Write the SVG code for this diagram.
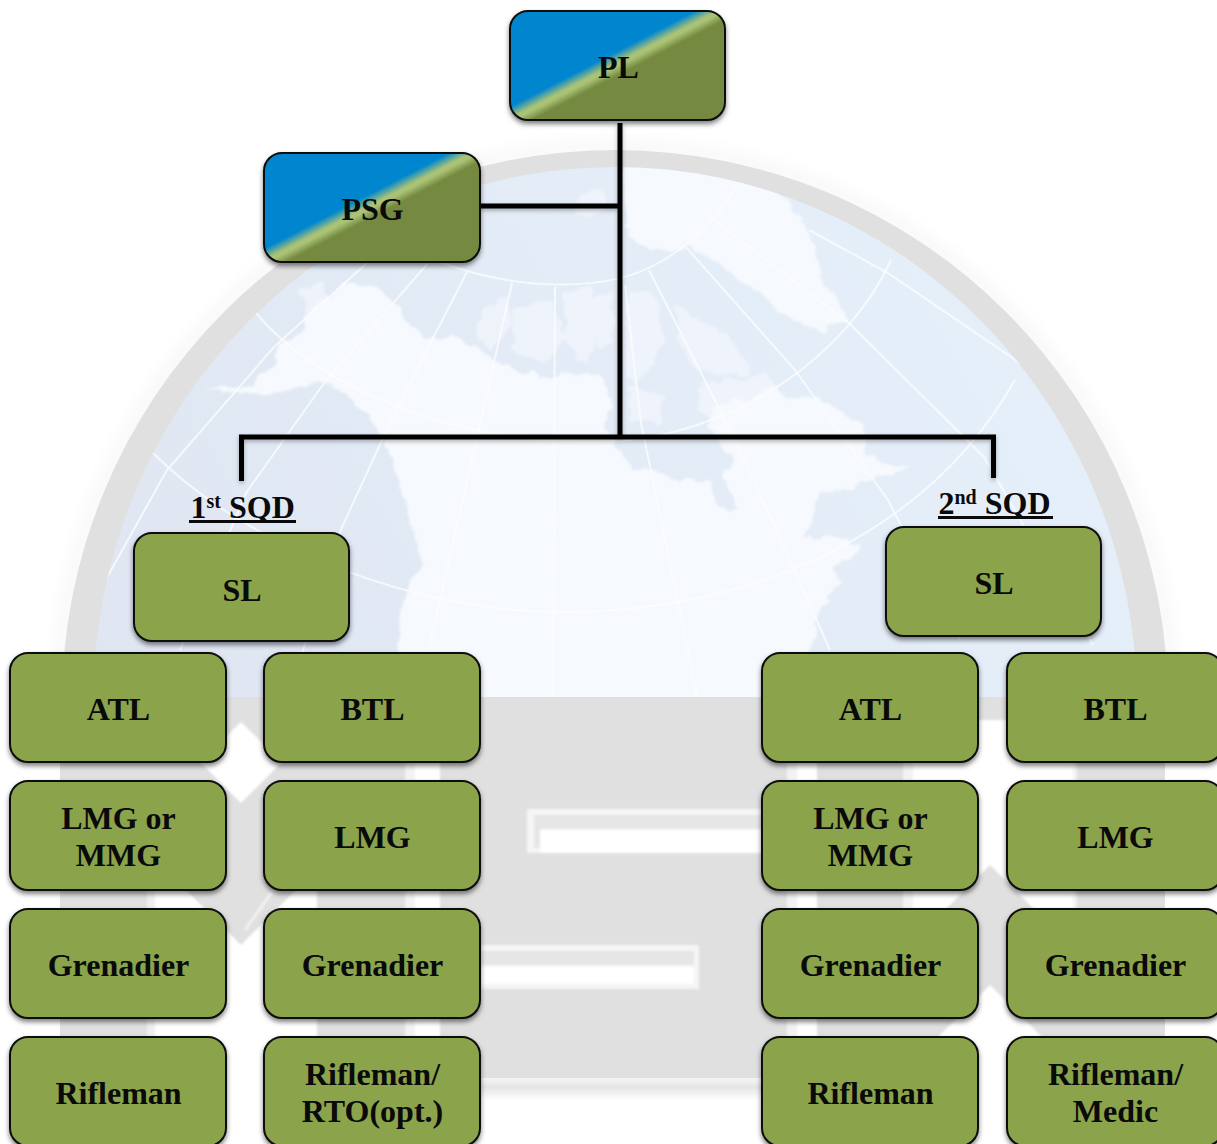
<svg xmlns="http://www.w3.org/2000/svg" width="1217" height="1144" viewBox="0 0 1217 1144">
<style>
.box{fill:#8ba34b;stroke:#0c0c0c;stroke-width:2;filter:url(#sh)}
.cmd{stroke:#0c0c0c;stroke-width:2;filter:url(#sh)}
.t{font-family:"Liberation Serif","Times New Roman",serif;font-weight:700;font-size:32px;fill:#0a0a0a;text-anchor:middle}
.h{text-anchor:start}
.s{font-size:20px}
.ul{stroke:#0a0a0a;stroke-width:3}
.land{fill:#f6f9fd}
.grat{fill:none;stroke:#fbfcfe;stroke-width:2;stroke-opacity:.8}
.wire{fill:none;stroke:#050505;stroke-width:5;stroke-linecap:butt;filter:url(#sh2)}
.w{fill:#fff}
.lt{fill:#f3f3f3}
</style>
<defs>
<filter id="sh" x="-10%" y="-10%" width="120%" height="125%"><feDropShadow dx="0" dy="3" stdDeviation="2.5" flood-color="#000" flood-opacity=".5"/></filter>
<filter id="sh2" filterUnits="userSpaceOnUse" x="0" y="0" width="1217" height="1144"><feDropShadow dx="0" dy="2" stdDeviation="2" flood-color="#000" flood-opacity=".3"/></filter>
<filter id="soft" filterUnits="userSpaceOnUse" x="0" y="0" width="1217" height="1144"><feGaussianBlur stdDeviation="8"/></filter>
<filter id="soft1" filterUnits="userSpaceOnUse" x="0" y="0" width="1217" height="1144"><feGaussianBlur stdDeviation="1.2"/></filter>
<filter id="rough" filterUnits="userSpaceOnUse" x="0" y="0" width="1217" height="1144">
<feTurbulence type="fractalNoise" baseFrequency=".07" numOctaves="3" seed="4" result="n"/>
<feDisplacementMap in="SourceGraphic" in2="n" scale="12" xChannelSelector="R" yChannelSelector="G"/>
<feGaussianBlur stdDeviation=".9"/>
</filter>
<linearGradient id="plg" gradientUnits="userSpaceOnUse" x1="609.7" y1="48" x2="626.3" y2="80">
<stop offset="0.17" stop-color="#0085cf"/><stop offset="0.46" stop-color="#a9c275"/><stop offset="0.55" stop-color="#a9c275"/><stop offset="0.78" stop-color="#748a40"/>
</linearGradient>
<linearGradient id="psgg" href="#plg" gradientTransform="translate(-246 142)"/>
<linearGradient id="sea" gradientUnits="userSpaceOnUse" x1="950" y1="220" x2="200" y2="640">
<stop offset="0" stop-color="#e5eff9"/><stop offset="1" stop-color="#e0e7f3"/>
</linearGradient>
<linearGradient id="band" x1="0" y1="0" x2="0" y2="1">
<stop offset="0" stop-color="#f4f4f4"/><stop offset=".2" stop-color="#efefef"/><stop offset=".4" stop-color="#e4e4e4"/><stop offset="1" stop-color="#fff"/>
</linearGradient>
<clipPath id="top"><rect x="0" y="0" width="1217" height="697"/></clipPath>
<clipPath id="globe"><ellipse cx="615" cy="703" rx="522" ry="536"/></clipPath>
</defs>
<rect width="1217" height="1144" fill="#fff"/>
<g id="background">
<g clip-path="url(#top)">
<ellipse cx="615" cy="703" rx="556" ry="556" fill="none" stroke="#000" stroke-opacity=".05" stroke-width="8" filter="url(#soft)"/>
<ellipse cx="615" cy="703" rx="553" ry="553" fill="#e0e0e0"/>
<ellipse cx="615" cy="703" rx="522" ry="536" fill="url(#sea)"/>
<g clip-path="url(#globe)">
<g filter="url(#rough)">
<path class="land" d="M206 387 250 388 274 363 281 343 306 330 303 317 328 297 342 283 381 287 399 307 424 340 453 337 481 350 510 367 539 377 599 372 612 400 605 425 613 440 633 470 643 467 677 480 710 480 713 497 730 513 740 510 723 477 732 457 720 443 705 425 715 405 745 400 773 385 790 400 810 395 840 410 866 427 863 450 880 462 913 467 870 480 845 490 820 490 806 540 830 535 863 547 834 570 841 583 820 610 813 640 800 720 397 720 397 647 403 597 423 563 397 477 389 453 371 417 345 395 325 382 289 390 249 397Z"/>
<path class="land" d="M622 155 700 160 770 180 798 213 815 250 823 285 849 320 820 330 790 318 763 297 727 270 690 247 650 252 628 235 625 200Z"/>
<path class="land" opacity=".6" d="M300 290 322 282 330 300 308 318Z M580 195 600 190 608 205 590 220 575 212Z M480 310 505 295 510 325 490 350 478 335Z M510 310 550 300 565 335 545 365 515 350Z M563 292 590 285 600 330 585 365 565 345Z M590 300 612 290 615 340 598 350Z M628 290 655 295 665 340 640 385 625 375Z M675 305 735 340 750 375 700 372 680 345Z M700 385 770 375 780 410 720 425 698 410Z M628 385 662 395 660 425 630 420Z"/>
</g>
<g class="grat">
<path d="M153 453C250 550 420 612 560 612 760 612 930 530 1015 380"/>
<path d="M256 313C320 390 460 445 600 442 740 438 850 350 891 260"/>
<path d="M440 262C520 292 610 292 660 262 690 245 722 215 735 187"/>
<path d="M555 287 553 697"/>
<path d="M512 283 418 697"/>
<path d="M467 272 396 410 342 527 300 660"/>
<path d="M428 263 324 383 246 493 180 650"/>
<path d="M367 263 274 347 167 470 100 590"/>
<path d="M625 285 641 423 677 597 697 697"/>
<path d="M649 270 735 440 791 563 830 650"/>
<path d="M686 247 795 370 888 500 960 640"/>
<path d="M716 222 849 323 984 457 1093 645"/>
<path d="M809 230 888 273 1030 370"/>
</g>
</g>
</g>
<rect x="60" y="697" width="1105" height="381" fill="#e0e0e0"/>
<rect x="60" y="1078" width="1105" height="22" fill="url(#band)"/>
<g filter="url(#soft1)">
<rect x="147" y="855" width="8" height="250" fill="#f0f0f0"/>
<path class="w" d="M241 722 282 762 241 803 200 762Z"/>
<path class="w" d="M155 859 241 945 317 869 317 1104 155 1104Z"/>
<rect class="lt" x="405" y="762" width="10" height="342"/>
<rect class="w" x="415" y="762" width="25" height="342"/>
<rect class="lt" x="787" y="762" width="10" height="342"/>
<rect class="w" x="797" y="762" width="20" height="342"/>
<rect class="lt" x="903" y="762" width="10" height="150"/>
<path class="w" d="M913 720 1077 720 1077 952 990 865 913 942Z"/>
<path class="w" d="M990 985 1105 1100 875 1100Z"/>
<rect class="lt" x="1073" y="762" width="4" height="150"/>
<path fill="#f5f5f5" d="M527 809H787V853H527Z"/>
<path class="w" d="M540 830H787V853H540Z"/>
<path fill="#e6e6e6" d="M534 815H787V829H540V848H534Z"/>
<path fill="#f5f5f5" d="M440 945H699V989H440Z"/>
<path class="w" d="M440 967H694V984H440Z"/>
<path fill="#e6e6e6" d="M440 951H694V965H440Z"/>
<path d="M245 930 272 892" fill="none" stroke="#f2f2f2" stroke-width="3"/>
</g>
<rect class="w" x="60" y="1100" width="1105" height="44"/>
</g>
<g id="connectors">
<path class="wire" d="M620 123V437"/>
<path class="wire" d="M480 206H618"/>
<path class="wire" d="M241.500 481V437H993.500V478"/>
</g>
<g id="node-pl"><rect class="cmd" x="510" y="11" width="215" height="109" rx="18" fill="url(#plg)"/><text class="t" x="618.500" y="78">PL</text></g>
<g id="node-psg"><rect class="cmd" x="264" y="153" width="216" height="109" rx="18" fill="url(#psgg)"/><text class="t" x="372.500" y="220">PSG</text></g>
<g id="label-1st"><text class="t h" x="190.500" y="518">1<tspan class="s" dy="-10">st</tspan><tspan dy="10"> SQD</tspan></text><line class="ul" x1="189" y1="521.500" x2="296" y2="521.500"/></g>
<g id="label-2nd"><text class="t h" x="938.500" y="514">2<tspan class="s" dy="-10">nd</tspan><tspan dy="10"> SQD</tspan></text><line class="ul" x1="938" y1="517.500" x2="1053" y2="517.500"/></g>
<g id="node-sl1"><rect class="box" x="134" y="533" width="215" height="108" rx="18"/><text class="t" x="242" y="601">SL</text></g>
<g id="node-sl2"><rect class="box" x="886" y="527" width="215" height="109" rx="18"/><text class="t" x="994" y="594">SL</text></g>
<g id="node-atl1"><rect class="box" x="10" y="653" width="216" height="109" rx="18"/><text class="t" x="118.500" y="720">ATL</text></g>
<g id="node-btl1"><rect class="box" x="264" y="653" width="216" height="109" rx="18"/><text class="t" x="372.500" y="720">BTL</text></g>
<g id="node-mg1"><rect class="box" x="10" y="781" width="216" height="109" rx="18"/><text class="t" x="118.500" y="829">LMG or</text><text class="t" x="118.500" y="866">MMG</text></g>
<g id="node-lmg1"><rect class="box" x="264" y="781" width="216" height="109" rx="18"/><text class="t" x="372.500" y="848">LMG</text></g>
<g id="node-gr1a"><rect class="box" x="10" y="909" width="216" height="109" rx="18"/><text class="t" x="118.500" y="976">Grenadier</text></g>
<g id="node-gr1b"><rect class="box" x="264" y="909" width="216" height="109" rx="18"/><text class="t" x="372.500" y="976">Grenadier</text></g>
<g id="node-rf1a"><rect class="box" x="10" y="1037" width="216" height="109" rx="18"/><text class="t" x="118.500" y="1104">Rifleman</text></g>
<g id="node-rf1b"><rect class="box" x="264" y="1037" width="216" height="109" rx="18"/><text class="t" x="372.500" y="1085">Rifleman/</text><text class="t" x="372.500" y="1122">RTO(opt.)</text></g>
<g id="node-atl2"><rect class="box" x="762" y="653" width="216" height="109" rx="18"/><text class="t" x="870.500" y="720">ATL</text></g>
<g id="node-btl2"><rect class="box" x="1007" y="653" width="216" height="109" rx="18"/><text class="t" x="1115.500" y="720">BTL</text></g>
<g id="node-mg2"><rect class="box" x="762" y="781" width="216" height="109" rx="18"/><text class="t" x="870.500" y="829">LMG or</text><text class="t" x="870.500" y="866">MMG</text></g>
<g id="node-lmg2"><rect class="box" x="1007" y="781" width="216" height="109" rx="18"/><text class="t" x="1115.500" y="848">LMG</text></g>
<g id="node-gr2a"><rect class="box" x="762" y="909" width="216" height="109" rx="18"/><text class="t" x="870.500" y="976">Grenadier</text></g>
<g id="node-gr2b"><rect class="box" x="1007" y="909" width="216" height="109" rx="18"/><text class="t" x="1115.500" y="976">Grenadier</text></g>
<g id="node-rf2a"><rect class="box" x="762" y="1037" width="216" height="109" rx="18"/><text class="t" x="870.500" y="1104">Rifleman</text></g>
<g id="node-rf2b"><rect class="box" x="1007" y="1037" width="216" height="109" rx="18"/><text class="t" x="1115.500" y="1085">Rifleman/</text><text class="t" x="1115.500" y="1122">Medic</text></g>
</svg>
